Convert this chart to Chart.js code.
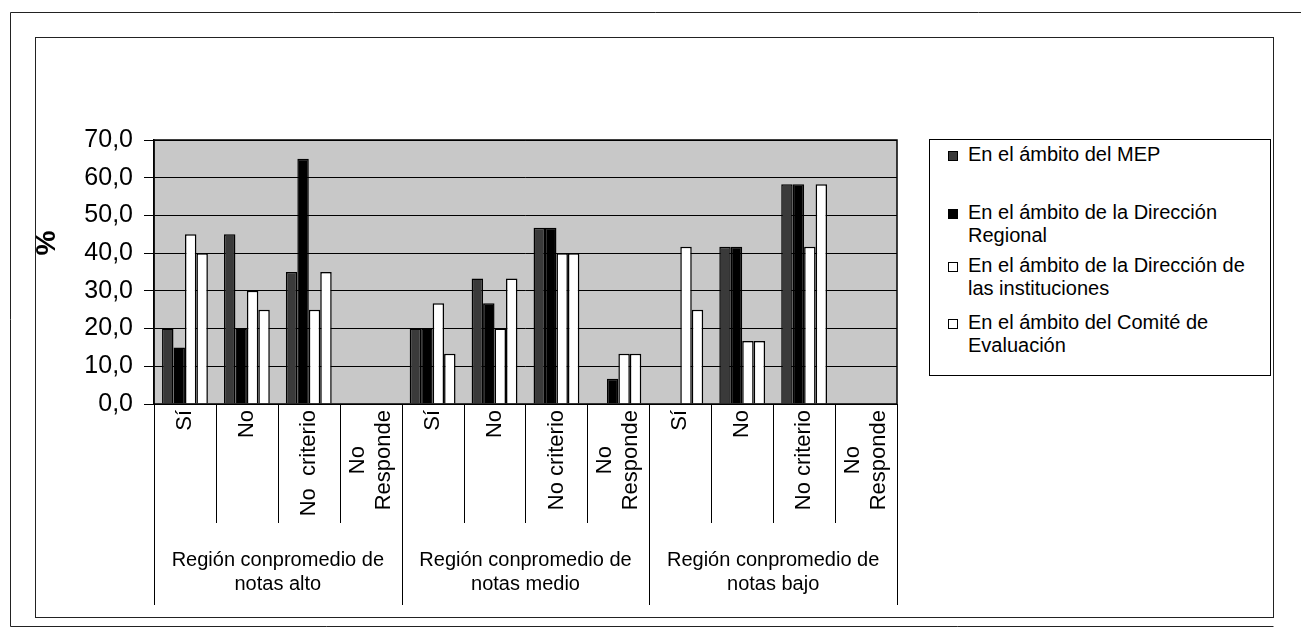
<!DOCTYPE html>
<html>
<head>
<meta charset="utf-8">
<script src="https://cdn.jsdelivr.net/npm/chart.js@4.4.1/dist/chart.umd.min.js"></script>
<style>
  html, body { margin: 0; padding: 0; background: #fff; }
  #wrap { position: relative; width: 1301px; height: 629px; }
  #c { position: absolute; left: 0; top: 0; }
  #legend { position: absolute; left: 929px; top: 139px; width: 342px; height: 237px;
    border: 1px solid #000; box-sizing: border-box; background: #fff;
    font-family: "Liberation Sans", Arial, sans-serif; font-size: 20px; color: #000; }
  .item { position: absolute; left: 0; width: 330px; }
  .mk { position: absolute; left: 18px; width: 8px; height: 8px; border: 1px solid #000; top: 8px; }
  .tx { position: absolute; left: 38px; width: 300px; line-height: 23px; }
</style>
</head>
<body>
<div id="wrap">
  <canvas id="c" width="1301" height="629"></canvas>
  <div id="legend"></div>
</div>
<script>
// ---- data ----
const categories = ['Sí', 'No', 'No  criterio', ['No', 'Responde'],
                    'Sí', 'No', 'No criterio', ['No', 'Responde'],
                    'Sí', 'No', 'No criterio', ['No', 'Responde']];
const groupLabels = [['Región conpromedio de', 'notas alto'],
                     ['Región conpromedio de', 'notas medio'],
                     ['Región conpromedio de', 'notas bajo']];
const seriesNames = ['En el ámbito del MEP',
                     'En el ámbito de la Dirección Regional',
                     'En el ámbito de la Dirección de las instituciones',
                     'En el ámbito del Comité de Evaluación'];
const mep = [20, 45, 35, 0,   20, 33.3, 46.7, 0,    0, 41.7, 58.3, 0];
const dr  = [15, 20, 65, 0,   20, 26.7, 46.7, 6.7,  0, 41.7, 58.3, 0];
const di  = [45, 30, 25, 0,   26.7, 20, 40, 13.3,   41.7, 16.7, 41.7, 0];
const ce  = [40, 25, 35, 0,   13.3, 33.3, 40, 13.3, 25, 16.7, 58.3, 0];
const yTicks = [0, 10, 20, 30, 40, 50, 60, 70];

const fillColors = ['#3a3a3a', '#000000', '#ffffff', '#ffffff'];
const seriesValues = [mep, dr, di, ce];
const FONT = '"Liberation Sans", Arial, sans-serif';
const CAT_FONT = 22;

const decor = {
  id: 'decor',
  beforeDraw(chart) {
    const ctx = chart.ctx, a = chart.chartArea;
    ctx.save();
    ctx.fillStyle = '#fff';
    ctx.fillRect(0, 0, chart.width, chart.height);
    ctx.fillStyle = '#c8c8c8';
    ctx.fillRect(a.left, a.top, a.right - a.left, a.bottom - a.top);
    ctx.restore();
  },
  afterDraw(chart) {
    const ctx = chart.ctx, a = chart.chartArea;
    const xs = chart.scales.x, x2 = chart.scales.x2;
    ctx.save();
    ctx.strokeStyle = '#000';
    ctx.lineWidth = 1.5;
    ctx.strokeRect(a.left, a.top, a.right - a.left, a.bottom - a.top);
    // separators between categories
    const n = categories.length;
    const centers = [];
    for (let i = 0; i < n; i++) centers.push(xs.getPixelForValue(i));
    const half = (centers[1] - centers[0]) / 2;
    ctx.lineWidth = 1;
    for (let i = 0; i <= n; i++) {
      const bx = i < n ? centers[i] - half : centers[n - 1] + half;
      const yEnd = (i % 4 === 0) ? x2.bottom : xs.bottom;
      ctx.beginPath();
      ctx.moveTo(Math.round(bx) + 0.5, a.bottom);
      ctx.lineTo(Math.round(bx) + 0.5, yEnd);
      ctx.stroke();
    }
    // multi-line category labels (centered block, rotated)
    ctx.fillStyle = '#000';
    ctx.font = CAT_FONT + 'px ' + FONT;
    const lh = 26;
    categories.forEach((lab, i) => {
      if (!Array.isArray(lab)) return;
      const widths = lab.map(t => ctx.measureText(t).width);
      const maxW = Math.max(...widths);
      const midY = a.bottom + 6 + maxW / 2;
      lab.forEach((t, k) => {
        const cx = centers[i] + (k - (lab.length - 1) / 2) * lh;
        ctx.save();
        ctx.translate(cx, midY);
        ctx.rotate(-Math.PI / 2);
        ctx.textAlign = 'center';
        ctx.textBaseline = 'middle';
        ctx.fillText(t, 0, 0);
        ctx.restore();
      });
    });
    // % title
    ctx.font = 'bold 28px ' + FONT;
    ctx.translate(47, 243);
    ctx.rotate(-Math.PI / 2);
    ctx.textAlign = 'center';
    ctx.textBaseline = 'middle';
    ctx.fillText('%', 0, 0);
    ctx.setTransform(1, 0, 0, 1, 0, 0);
    // frames
    ctx.lineWidth = 1;
    ctx.strokeStyle = '#222';
    ctx.strokeRect(35.5, 37.5, 1238, 580);
    ctx.beginPath();
    ctx.moveTo(1301, 12.5); ctx.lineTo(10.5, 12.5); ctx.lineTo(10.5, 626.5); ctx.lineTo(1273.5, 626.5);
    ctx.stroke();
    ctx.restore();
  }
};

const chart = new Chart(document.getElementById('c'), {
  type: 'bar',
  data: {
    labels: categories,
    datasets: seriesNames.map((name, i) => ({
      label: name,
      data: seriesValues[i],
      backgroundColor: fillColors[i],
      borderColor: '#000',
      borderWidth: 1.5,
      borderSkipped: 'start',
      categoryPercentage: 0.74,
      barPercentage: 1.0,
      xAxisID: 'x',
      yAxisID: 'y'
    }))
  },
  options: {
    responsive: false,
    animation: false,
    events: [],
    layout: { padding: { left: 30, top: 140, right: 404, bottom: 24 } },
    plugins: { legend: { display: false }, tooltip: { enabled: false } },
    scales: {
      y: {
        min: 0, max: 70,
        afterBuildTicks(scale) { scale.ticks = yTicks.map(v => ({ value: v })); },
        afterFit(scale) { scale.width = 124; },
        ticks: {
          color: '#000',
          font: { family: FONT, size: 25 },
          padding: 11,
          callback: v => v.toFixed(1).replace('.', ',')
        },
        grid: { color: '#000', lineWidth: 1, tickLength: 10, drawTicks: true },
        border: { display: true, color: '#000', width: 1.5 }
      },
      x: {
        position: 'bottom',
        afterFit(scale) { scale.height = 119; },
        ticks: {
          color: '#000',
          font: { family: FONT, size: CAT_FONT },
          minRotation: 90, maxRotation: 90,
          autoSkip: false,
          padding: 6,
          // multi-line labels are drawn centred by the decor plugin
          callback: (v, i) => Array.isArray(categories[i]) ? '' : categories[i]
        },
        grid: { display: false, drawTicks: false },
        border: { display: false }
      },
      x2: {
        type: 'category',
        position: 'bottom',
        labels: groupLabels,
        offset: true,
        afterFit(scale) { scale.height = 82; },
        ticks: {
          color: '#000',
          font: { family: FONT, size: 20 },
          minRotation: 0, maxRotation: 0,
          autoSkip: false,
          padding: 25
        },
        grid: { display: false, drawTicks: false },
        border: { display: false }
      }
    }
  },
  plugins: [decor]
});

// HTML legend built from datasets
const legend = document.getElementById('legend');
const tops = [3, 61, 114, 171];
chart.data.datasets.forEach((ds, i) => {
  const it = document.createElement('div');
  it.className = 'item';
  it.style.top = tops[i] + 'px';
  const mk = document.createElement('div');
  mk.className = 'mk';
  mk.style.background = ds.backgroundColor;
  const tx = document.createElement('div');
  tx.className = 'tx';
  tx.textContent = ds.label;
  it.appendChild(mk); it.appendChild(tx);
  legend.appendChild(it);
});
</script>
</body>
</html>
